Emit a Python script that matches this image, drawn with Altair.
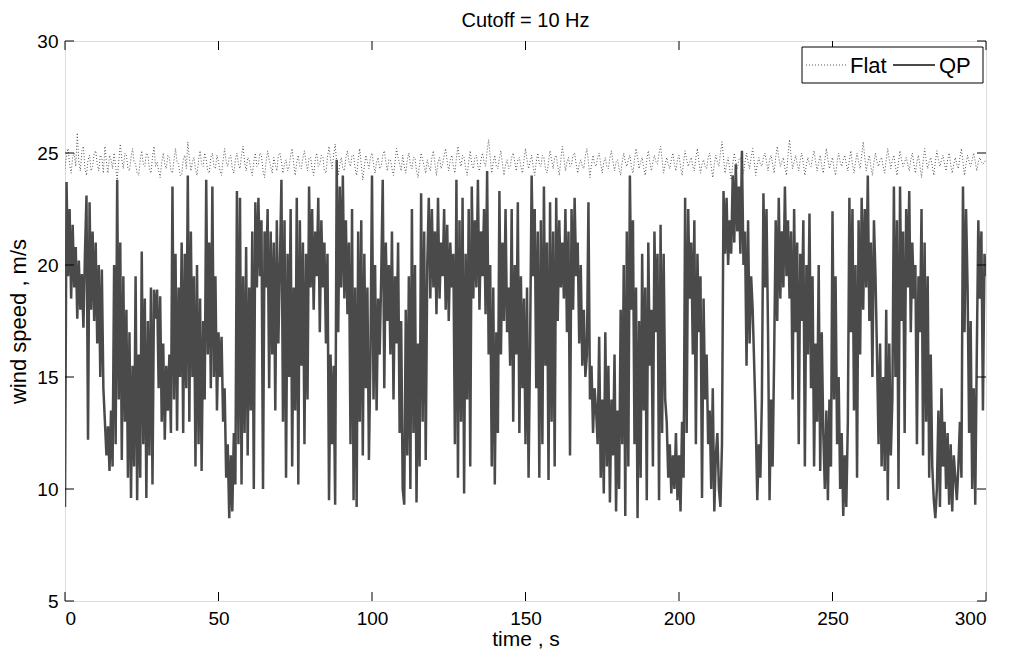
import altair as alt
import numpy as np
import pandas as pd

# ---------------- data ----------------
qp_step = 0.5
qp_values = [
    9.2, 23.7, 19.5, 22.5, 18.5, 21.8, 19.0, 20.8, 17.6, 20.2, 18.0, 19.6, 17.2, 20.5, 23.1, 12.2, 22.8, 18.0, 21.5, 17.5,
    21.0, 16.5, 20.0, 15.0, 19.8, 14.5, 13.0, 11.5, 12.8, 10.8, 13.5, 11.0, 20.0, 12.0, 23.8, 14.0, 21.0, 11.3, 19.5, 13.0,
    18.0, 10.5, 17.0, 9.6, 15.5, 11.0, 19.5, 9.5, 16.0, 10.5, 20.6, 12.0, 18.5, 9.6, 17.5, 11.5, 19.0, 10.2, 18.9, 17.6,
    18.9, 14.5, 18.6, 13.0, 16.5, 12.2, 15.5, 13.5, 16.0, 12.5, 23.5, 14.0, 20.5, 12.6, 19.0, 15.0, 21.0, 12.5, 20.5, 14.5,
    24.0, 13.0, 21.5, 15.0, 19.5, 11.0, 20.0, 12.0, 18.5, 10.8, 17.5, 14.0, 23.8, 16.0, 21.0, 14.5, 23.5, 15.0, 19.5, 13.5,
    17.0, 15.0, 16.8, 13.0, 14.5, 10.5, 12.0, 8.7, 11.5, 9.0, 12.5, 10.2, 23.3, 12.0, 23.0, 10.2, 19.5, 12.5, 20.8, 11.5,
    19.0, 13.5, 21.5, 10.0, 22.8, 19.0, 23.0, 19.5, 22.0, 10.0, 21.5, 19.0, 22.5, 14.5, 21.5, 16.0, 21.0, 13.5, 22.0, 16.5,
    20.0, 23.8, 13.0, 22.0, 10.5, 20.5, 15.0, 22.5, 11.0, 19.0, 13.5, 23.0, 10.2, 22.0, 15.5, 21.0, 12.0, 20.5, 14.0, 23.5,
    19.0, 22.5, 18.0, 21.5, 19.5, 23.0, 17.0, 22.0, 19.0, 21.0, 16.5, 20.5, 9.5, 16.0, 12.0, 15.5, 9.3, 24.7, 17.0, 23.5,
    19.0, 24.0, 18.5, 22.0, 17.8, 21.0, 12.0, 22.5, 9.5, 19.0, 9.2, 21.5, 13.0, 22.0, 11.5, 20.5, 14.5, 19.0, 11.3, 16.0,
    24.0, 14.0, 20.0, 13.5, 18.5, 16.0, 19.5, 23.8, 14.5, 21.0, 17.5, 20.0, 16.0, 21.5, 14.0, 19.5, 16.5, 21.0, 12.5, 17.5,
    10.0, 9.3, 18.0, 11.5, 19.5, 10.0, 22.5, 12.5, 20.0, 9.4, 16.5, 11.0, 23.2, 13.0, 21.5, 11.3, 20.0, 23.0, 18.5, 22.5,
    19.0, 21.5, 17.8, 23.0, 18.5, 21.0, 19.5, 22.5, 18.0, 21.8, 17.5, 21.0, 19.0, 20.5, 12.0, 23.8, 10.5, 22.0, 13.0, 23.0,
    9.8, 20.5, 14.0, 22.5, 11.0, 23.5, 18.5, 22.0, 19.0, 23.8, 18.0, 21.5, 19.5, 22.5, 17.8, 24.2, 16.0, 20.0, 11.0, 19.0,
    10.2, 17.0, 12.5, 23.3, 16.0, 21.0, 17.5, 22.5, 17.0, 19.0, 15.5, 22.5, 13.0, 20.0, 16.0, 22.8, 12.5, 19.5, 14.5, 18.5,
    12.0, 19.0, 10.5, 16.5, 24.0, 19.5, 22.5, 14.5, 21.5, 10.5, 22.0, 12.0, 23.5, 15.5, 21.0, 10.4, 22.8, 13.0, 21.5, 11.0,
    23.0, 17.5, 22.0, 19.0, 21.0, 18.5, 22.5, 17.0, 21.5, 11.5, 22.5, 18.0, 23.0, 19.5, 21.0, 16.5, 20.0, 15.5, 18.0, 15.0,
    16.0, 22.8, 14.0, 15.5, 12.5, 14.5, 13.5, 12.0, 16.8, 10.5, 14.0, 9.8, 17.0, 11.0, 15.5, 9.4, 14.0, 11.5, 16.0, 9.0,
    13.5, 10.0, 18.0, 12.0, 20.0, 8.8, 21.5, 11.0, 24.0, 18.0, 22.0, 12.0, 19.0, 8.7, 17.5, 10.5, 20.5, 13.5, 19.0, 9.5,
    21.0, 15.5, 18.0, 11.0, 21.5, 17.0, 20.5, 9.5, 21.8, 12.5, 20.5, 14.0, 13.0, 10.5, 12.0, 9.8, 11.5, 10.0, 12.5, 9.5,
    11.5, 9.0, 13.0, 10.5, 23.0, 12.5, 22.5, 18.5, 21.0, 16.0, 22.0, 12.0, 20.5, 17.0, 19.5, 9.6, 18.5, 14.0, 16.0, 12.0,
    13.5, 10.0, 14.5, 9.0, 11.5, 12.5, 10.0, 9.2, 12.0, 23.3, 20.5, 23.0, 20.0, 22.0, 20.5, 24.0, 21.0, 24.5, 21.5, 23.5,
    20.5, 25.1, 20.0, 21.5, 15.5, 22.0, 16.5, 19.5, 18.0, 15.5, 13.0, 9.5, 12.0, 10.5, 14.0, 23.2, 19.0, 22.5, 17.0, 9.5,
    14.0, 11.0, 16.0, 22.0, 17.5, 23.0, 18.5, 21.5, 19.0, 23.5, 19.5, 22.0, 18.5, 21.5, 14.0, 22.5, 17.0, 21.0, 12.0, 20.5,
    17.5, 22.0, 11.0, 20.0, 16.0, 22.3, 14.5, 19.5, 11.0, 16.5, 13.0, 20.0, 10.8, 17.0, 12.5, 10.0, 13.5, 9.5, 14.0, 11.0,
    22.4, 14.0, 19.5, 12.0, 15.0, 10.0, 12.5, 8.8, 11.5, 9.2, 13.0, 23.0, 17.0, 22.5, 13.5, 20.0, 10.5, 22.0, 16.0, 23.0,
    18.0, 22.5, 19.0, 24.0, 17.5, 21.0, 15.0, 22.0, 19.5, 16.0, 12.0, 16.5, 11.0, 15.0, 10.8, 18.0, 9.5, 16.5, 11.5, 14.0,
    23.5, 15.0, 22.0, 10.0, 23.5, 17.5, 21.5, 12.5, 22.5, 19.0, 23.3, 17.0, 21.0, 18.5, 20.0, 12.0, 19.5, 17.0, 22.5, 11.5,
    21.0, 13.0, 19.5, 10.5, 16.0, 11.0, 9.5, 8.7, 10.0, 13.5, 9.2, 14.5, 11.0, 13.0, 10.0, 12.5, 9.3, 12.0, 9.0, 11.5,
    10.5, 9.5, 11.0, 13.0, 10.5, 23.5, 17.0, 22.5, 19.0, 12.5, 17.5, 10.0, 14.5, 9.3, 16.0, 22.0, 18.5, 21.5, 13.5, 20.5,
    19.5,
]

flat_step = 0.5
flat_values = [
    24.3, 24.9, 25.2, 24.5, 24.1, 24.8, 25.0, 24.4, 25.9, 24.6, 24.2, 25.1, 25.3, 24.3, 24.0, 24.7, 24.9, 24.2, 24.4, 25.0,
    25.1, 24.5, 24.2, 24.9, 24.8, 24.1, 25.3, 24.6, 24.1, 24.9, 24.7, 24.3, 25.0, 24.4, 23.8, 24.6, 25.4, 24.7, 24.3, 25.0,
    24.9, 24.3, 24.2, 24.8, 25.2, 24.6, 24.5, 24.1, 24.0, 24.7, 25.1, 24.5, 24.4, 25.0, 24.9, 24.3, 24.1, 24.8, 25.3, 24.4,
    24.6, 24.2, 23.9, 24.6, 25.0, 24.5, 24.3, 24.9, 24.8, 24.2, 24.1, 24.7, 25.2, 24.6, 24.5, 24.0, 24.0, 24.7, 24.9, 24.3,
    25.5, 24.8, 24.2, 24.6, 24.8, 24.3, 24.0, 24.7, 25.1, 24.5, 24.4, 25.0, 24.7, 24.2, 24.1, 24.8, 25.0, 24.4, 24.3, 24.9,
    24.6, 24.2, 24.0, 24.7, 25.2, 24.6, 24.4, 24.8, 24.9, 24.3, 24.1, 24.7, 25.0, 24.5, 24.3, 24.9, 25.3, 24.6, 24.2, 24.8,
    24.7, 24.3, 24.0, 24.6, 25.0, 24.4, 24.5, 25.0, 24.9, 24.2, 23.9, 24.6, 25.1, 24.7, 24.4, 24.1, 24.8, 24.5, 24.2, 24.9,
    25.0, 24.6, 24.1, 24.5, 24.7, 24.2, 24.4, 24.9, 25.2, 24.5, 24.0, 24.6, 24.9, 24.4, 24.3, 24.8, 25.1, 24.6, 24.2, 24.8,
    24.8, 24.3, 24.0, 24.7, 25.0, 24.4, 24.5, 24.9, 24.8, 24.2, 24.1, 24.8, 25.3, 24.7, 24.3, 24.9, 25.4, 24.6, 24.0, 24.5,
    24.8, 24.3, 24.2, 24.8, 25.1, 24.6, 24.4, 24.9, 24.9, 24.3, 24.0, 24.7, 25.2, 24.5, 23.8, 24.4, 24.9, 24.6, 24.3, 24.8,
    25.0, 24.5, 24.1, 24.6, 24.8, 24.3, 24.4, 24.9, 25.1, 24.6, 24.2, 24.7, 24.7, 24.3, 24.0, 24.6, 25.2, 24.8, 24.5, 24.2,
    24.9, 24.4, 24.1, 24.7, 25.0, 24.5, 24.3, 24.8, 24.8, 24.2, 23.9, 24.5, 25.0, 24.7, 24.4, 24.1, 24.7, 24.4, 24.2, 24.8,
    25.1, 24.5, 24.0, 24.6, 24.8, 24.3, 24.5, 24.9, 25.2, 24.6, 24.2, 24.7, 24.9, 24.4, 24.1, 24.8, 25.3, 24.7, 24.4, 24.9,
    24.8, 24.3, 24.0, 24.6, 25.1, 24.5, 24.3, 24.8, 24.9, 24.4, 24.2, 24.7, 25.0, 24.6, 24.4, 25.1, 25.6, 24.8, 24.1, 24.6,
    24.9, 24.4, 24.3, 24.8, 25.1, 24.5, 24.0, 24.5, 24.7, 24.3, 24.4, 24.8, 25.0, 24.6, 24.2, 24.7, 24.8, 24.4, 24.1, 24.7,
    25.2, 24.7, 24.3, 24.6, 24.9, 24.4, 24.0, 24.6, 25.0, 24.5, 24.4, 24.9, 24.8, 24.3, 24.1, 24.6, 25.1, 24.7, 24.3, 24.8,
    24.9, 24.4, 24.0, 24.7, 25.3, 24.8, 24.2, 24.6, 24.8, 24.4, 24.5, 24.9, 25.0, 24.5, 24.1, 24.5, 24.7, 24.4, 24.3, 24.9,
    25.2, 24.6, 23.9, 24.5, 24.9, 24.5, 24.4, 24.8, 25.0, 24.5, 24.1, 24.6, 24.8, 24.4, 24.3, 24.8, 25.1, 24.6, 24.2, 24.6,
    24.7, 24.3, 24.0, 24.6, 25.0, 24.6, 24.4, 24.7, 24.9, 24.4, 24.1, 24.7, 25.2, 24.8, 24.3, 24.6, 24.8, 24.3, 24.0, 24.7,
    25.1, 24.6, 24.2, 24.6, 24.9, 24.6, 24.5, 25.0, 25.3, 24.7, 24.1, 24.5, 24.8, 24.5, 24.3, 24.7, 25.0, 24.5, 24.2, 24.7,
    24.9, 24.4, 24.0, 24.6, 25.1, 24.7, 24.4, 24.6, 24.8, 24.4, 24.2, 24.8, 25.2, 24.6, 24.1, 24.5, 24.7, 24.4, 24.3, 24.8,
    25.0, 24.4, 23.9, 24.5, 24.9, 24.6, 24.4, 25.0, 25.5, 24.8, 24.1, 24.5, 24.8, 24.3, 23.8, 24.5, 25.0, 24.6, 24.3, 24.7,
    24.8, 24.4, 24.1, 24.6, 25.0, 24.6, 24.3, 24.8, 25.2, 24.6, 24.0, 24.5, 24.8, 24.5, 24.4, 24.8, 25.0, 24.6, 24.2, 24.7,
    24.9, 24.5, 24.1, 24.8, 25.3, 24.8, 24.4, 24.6, 24.8, 24.3, 24.0, 24.9, 25.6, 24.9, 24.3, 24.6, 24.9, 24.5, 24.2, 24.7,
    25.0, 24.5, 24.0, 24.5, 24.8, 24.5, 24.4, 24.8, 25.1, 24.6, 24.2, 24.6, 24.9, 24.4, 24.1, 24.7, 25.2, 24.7, 24.3, 24.6,
    24.8, 24.3, 24.0, 24.6, 25.0, 24.6, 24.4, 24.7, 24.9, 24.5, 24.2, 24.7, 25.1, 24.5, 24.1, 24.6, 25.0, 24.6, 24.3, 24.9,
    25.5, 24.8, 24.2, 24.6, 24.9, 24.4, 24.0, 24.6, 25.0, 24.6, 24.4, 24.7, 24.8, 24.4, 24.1, 24.7, 25.2, 24.7, 24.3, 24.7,
    24.9, 24.4, 24.0, 24.6, 25.1, 24.7, 24.4, 24.6, 24.8, 24.5, 24.2, 24.7, 25.0, 24.5, 24.1, 24.6, 24.9, 24.4, 23.9, 24.6,
    25.2, 24.7, 24.3, 24.6, 24.8, 24.4, 24.0, 24.6, 25.1, 24.7, 24.4, 24.7, 24.9, 24.5, 24.2, 24.7, 25.0, 24.5, 24.1, 24.5,
    24.8, 24.5, 24.3, 24.8, 25.2, 24.6, 24.0, 24.5, 24.9, 24.6, 24.4, 24.7, 25.0, 24.6, 24.2, 24.6, 24.8, 24.6, 24.5, 24.6,
    24.7,
]

x_ticks = [0, 50, 100, 150, 200, 250, 300]
y_ticks = [5, 10, 15, 20, 25, 30]
legend_labels = ["Flat", "QP"]

title_text = "Cutoff = 10 Hz"
x_title = "time , s"
y_title = "wind speed , m/s"

# ---------------- layout ----------------
W, H = 921, 560
TICK = 9
FONT = "Liberation Sans, Arial, sans-serif"

qp_df = pd.DataFrame({"t": np.arange(len(qp_values)) * qp_step, "v": qp_values})
flat_df = pd.DataFrame({"t": np.arange(len(flat_values)) * flat_step, "v": flat_values})
xt_df = pd.DataFrame({"t": x_ticks})
yt_df = pd.DataFrame({"v": y_ticks})
one = pd.DataFrame({"a": [0]})

xs = alt.Scale(domain=[0, 300], nice=False, zero=False)
ys = alt.Scale(domain=[5, 30], nice=False, zero=False)

x_axis = alt.Axis(values=x_ticks, title=x_title, domain=False, ticks=False, grid=False,
                  labelFont=FONT, labelFontSize=19, labelColor="black", labelPadding=8,
                  titleFont=FONT, titleFontSize=21, titleFontWeight="normal",
                  titleColor="black", titlePadding=0)
y_axis = alt.Axis(values=y_ticks, title=y_title, domain=False, ticks=False, grid=False,
                  labelFont=FONT, labelFontSize=19, labelColor="black", labelPadding=7,
                  titleFont=FONT, titleFontSize=22, titleFontWeight="normal",
                  titleColor="black", titlePadding=6)

flat_line = alt.Chart(flat_df).mark_line(
    color="#555555", strokeWidth=1, strokeDash=[1, 2], clip=True
).encode(
    x=alt.X("t:Q", scale=xs, axis=x_axis),
    y=alt.Y("v:Q", scale=ys, axis=y_axis),
)

qp_line = alt.Chart(qp_df).mark_line(
    color="#4a4a4a", strokeWidth=2.5, clip=True, strokeJoin="miter"
).encode(
    x=alt.X("t:Q", scale=xs),
    y=alt.Y("v:Q", scale=ys),
)

tick_style = dict(color="black", strokeWidth=1)
bottom_ticks = alt.Chart(xt_df).mark_rule(**tick_style).encode(
    x=alt.X("t:Q", scale=xs), y=alt.value(H), y2=alt.value(H - TICK))
top_ticks = alt.Chart(xt_df).mark_rule(**tick_style).encode(
    x=alt.X("t:Q", scale=xs), y=alt.value(0), y2=alt.value(TICK))
left_ticks = alt.Chart(yt_df).mark_rule(**tick_style).encode(
    y=alt.Y("v:Q", scale=ys), x=alt.value(0), x2=alt.value(TICK))
right_ticks = alt.Chart(yt_df).mark_rule(**tick_style).encode(
    y=alt.Y("v:Q", scale=ys), x=alt.value(W), x2=alt.value(W - TICK))

# legend box (top right, inside the plot)
LX0, LX1, LY0, LY1 = 737, 918, 6, 42
LYC = 24
legend_box = alt.Chart(one).mark_rect(fill="white", stroke="black", strokeWidth=1).encode(
    x=alt.value(LX0), x2=alt.value(LX1), y=alt.value(LY0), y2=alt.value(LY1))
legend_flat = alt.Chart(one).mark_rule(color="#555555", strokeWidth=1, strokeDash=[1, 2]).encode(
    x=alt.value(741), x2=alt.value(781), y=alt.value(LYC))
legend_qp = alt.Chart(one).mark_rule(color="#4a4a4a", strokeWidth=2).encode(
    x=alt.value(828), x2=alt.value(870), y=alt.value(LYC))
legend_text_df = pd.DataFrame({"label": legend_labels, "px": [785, 874]})
legend_text = alt.Chart(legend_text_df).mark_text(
    align="left", baseline="middle", font=FONT, fontSize=22, color="black"
).encode(
    x=alt.X("px:Q", scale=None), y=alt.value(LYC + 1), text="label:N")

chart = alt.layer(
    flat_line, qp_line,
    bottom_ticks, top_ticks, left_ticks, right_ticks,
    legend_box, legend_flat, legend_qp, legend_text,
).properties(
    width=W, height=H,
    title=alt.TitleParams(title_text, font=FONT, fontSize=20, fontWeight="normal",
                          color="black", anchor="middle", offset=1),
    autosize=alt.AutoSizeParams(type="none"),
    padding={"left": 65, "top": 41, "right": 24, "bottom": 56},
).configure_view(
    stroke="black", strokeWidth=1
).configure(background="white")

chart.save("out.html", embed_options={"renderer": "svg", "actions": False})
